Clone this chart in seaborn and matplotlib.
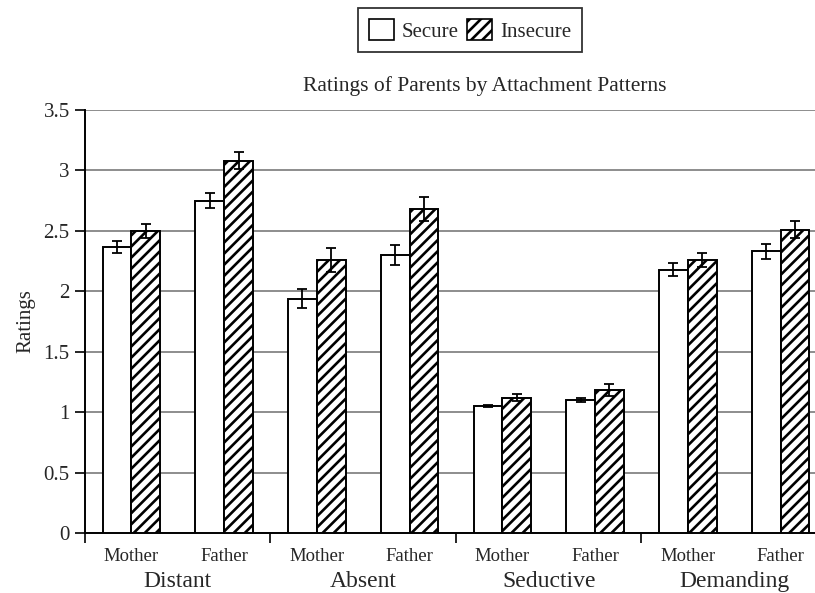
import matplotlib
matplotlib.use("Agg")
import matplotlib.pyplot as plt
import matplotlib.transforms as mtransforms
from matplotlib.patches import Patch
import seaborn as sns
import pandas as pd

# --- data ---
groups = ["Distant", "Absent", "Seductive", "Demanding"]
parents = ["Mother", "Father"]
secure = [2.37, 2.75, 1.94, 2.30, 1.05, 1.10, 2.18, 2.33]
insecure = [2.50, 3.08, 2.26, 2.68, 1.12, 1.18, 2.26, 2.51]
secure_err = [0.05, 0.06, 0.08, 0.08, 0.01, 0.02, 0.05, 0.06]
insecure_err = [0.06, 0.07, 0.10, 0.10, 0.03, 0.05, 0.06, 0.07]
yticks = [0, 0.5, 1, 1.5, 2, 2.5, 3, 3.5]
yticklabels = ["0", "0.5", "1", "1.5", "2", "2.5", "3", "3.5"]

cells = [f"{g}|{p}" for g in groups for p in parents]
df = pd.DataFrame({
    "cell": cells * 2,
    "attachment": ["Secure"] * len(cells) + ["Insecure"] * len(cells),
    "rating": secure + insecure,
})

sns.set_style("white")
plt.rcParams["font.family"] = ["Liberation Serif", "DejaVu Serif"]
plt.rcParams["hatch.linewidth"] = 1.9

fig = plt.figure(figsize=(8.15, 5.93), dpi=100)
ax = fig.add_axes([0.1043, 0.1012, 0.9104, 0.7133])

sns.barplot(data=df, x="cell", y="rating", hue="attachment", order=cells,
            hue_order=["Secure", "Insecure"], palette=["white", "white"],
            width=0.62, errorbar=None, edgecolor="black", linewidth=1.4,
            legend=False, ax=ax, zorder=3)

for bar in ax.containers[1]:
    bar.set_hatch("///")

# error bars at the bar centres
for cont, vals, errs in [(ax.containers[0], secure, secure_err),
                         (ax.containers[1], insecure, insecure_err)]:
    xs = [b.get_x() + b.get_width() / 2 for b in cont]
    ax.errorbar(xs, vals, yerr=errs, fmt="none", ecolor="black",
                elinewidth=1.3, capsize=3.5, capthick=1.3, zorder=4)

ax.set_xlim(-0.5, len(cells) - 0.5)
ax.set_ylim(0, 3.5)
ax.set_yticks(yticks)
ax.set_yticklabels(yticklabels, fontsize=15)
ax.yaxis.grid(True, color="#7a7a7a", linewidth=1.2, zorder=0)
ax.set_axisbelow(True)

ax.set_xticks(range(len(cells)))
ax.set_xticklabels(parents * len(groups), fontsize=13.5)
ax.set_xticks([i * 2 - 0.5 for i in range(len(groups) + 1)], minor=True)
ax.tick_params(axis="x", which="major", length=0, pad=11)
ax.tick_params(axis="x", which="minor", length=7, width=1.2, color="black",
               direction="out", bottom=True)
ax.tick_params(axis="y", length=7, width=1.2, color="black",
               direction="out", left=True, pad=4)

for side in ["top", "right"]:
    ax.spines[side].set_visible(False)
for side in ["left", "bottom"]:
    ax.spines[side].set_color("black")
    ax.spines[side].set_linewidth(1.4)

ax.set_xlabel("")
ax.set_ylabel("Ratings", fontsize=15, labelpad=6)

trans = mtransforms.blended_transform_factory(ax.transData, ax.transAxes)
for i, g in enumerate(groups):
    ax.text(i * 2 + 0.5, -0.114, g, transform=trans, ha="center", va="center",
            fontsize=17)

ax.set_title("Ratings of Parents by Attachment Patterns", fontsize=15.5,
             x=0.539, pad=14)

handles = [Patch(facecolor="white", edgecolor="black", linewidth=1.2),
           Patch(facecolor="white", edgecolor="black", linewidth=1.2,
                 hatch="///")]
leg = fig.legend(handles, ["Secure", "Insecure"], loc="center",
                 bbox_to_anchor=(0.577, 0.949), ncol=2, fontsize=15,
                 frameon=True, fancybox=False, edgecolor="black",
                 handlelength=1.2, handleheight=1.2, handletextpad=0.4,
                 columnspacing=0.4, borderpad=0.5)
leg.get_frame().set_linewidth(1.3)

fig.savefig("out.png", dpi=100)
